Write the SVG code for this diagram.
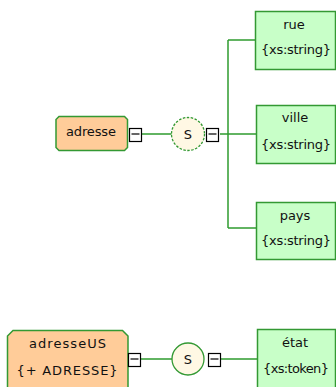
<svg xmlns="http://www.w3.org/2000/svg" width="336" height="387" viewBox="0 0 336 387">
<style>
.el{fill:#C8FFC8;stroke:#339933;stroke-width:1.5}
.grp{fill:#FFCC99;stroke:#339933;stroke-width:1.5}
.seq{fill:#FFF8E4;stroke:#339933;stroke-width:1.3}
.ln{stroke:#2E9B2E;stroke-width:1.5;fill:none}
.cb{fill:#FFFFFF;stroke:#000000;stroke-width:1.2}
.mn{stroke:#000000;stroke-width:1.2}
text{font-family:"DejaVu Sans","Verdana",sans-serif;font-size:13px;fill:#111111;text-anchor:middle}
</style>
<g id="connectors">
<line class="ln" x1="142" y1="134" x2="172" y2="134"/>
<line class="ln" x1="220" y1="134" x2="256" y2="134"/>
<line class="ln" x1="228" y1="40" x2="228" y2="228"/>
<line class="ln" x1="228" y1="40" x2="255" y2="40"/>
<line class="ln" x1="228" y1="228" x2="256" y2="228"/>
<line class="ln" x1="141" y1="359" x2="172" y2="359"/>
<line class="ln" x1="221" y1="359" x2="257" y2="359"/>
</g>
<g id="adresse">
<path class="grp" d="M59,116.5 H124.5 L127.5,119.5 V147.5 L124.5,150.5 H59 L56,147.5 V119.5 Z"/>
<text x="91" y="136" textLength="50" lengthAdjust="spacing">adresse</text>
<rect class="cb" x="129.5" y="128.5" width="12" height="13"/>
<line class="mn" x1="131.5" y1="134" x2="139.5" y2="134"/>
</g>
<g id="seq1">
<circle class="seq" cx="188" cy="134" r="16.5" stroke-dasharray="2.5,1.5"/>
<text x="188" y="138.5">S</text>
<rect class="cb" x="206.5" y="128.5" width="12" height="13"/>
<line class="mn" x1="208.5" y1="134" x2="216.5" y2="134"/>
</g>
<g id="rue">
<rect class="el" x="255.5" y="11.5" width="80" height="58"/>
<text x="294" y="28.5">rue</text>
<text x="296" y="54" textLength="70" lengthAdjust="spacing">{xs:string}</text>
</g>
<g id="ville">
<rect class="el" x="256.5" y="105.5" width="79" height="58"/>
<text x="295" y="122">ville</text>
<text x="296" y="148.5" textLength="70" lengthAdjust="spacing">{xs:string}</text>
</g>
<g id="pays">
<rect class="el" x="256.5" y="202.5" width="79" height="57"/>
<text x="295" y="219.5">pays</text>
<text x="296" y="245" textLength="70" lengthAdjust="spacing">{xs:string}</text>
</g>
<g id="adresseUS">
<path class="grp" d="M13,330.5 H122.5 L128,336 V392 H7.5 V336 Z"/>
<text x="67.5" y="348" textLength="77" lengthAdjust="spacing">adresseUS</text>
<text x="67" y="375" textLength="101" lengthAdjust="spacing">{+ ADRESSE}</text>
<rect class="cb" x="128.5" y="353.5" width="12" height="13"/>
<line class="mn" x1="130.5" y1="359" x2="138.5" y2="359"/>
</g>
<g id="seq2">
<circle class="seq" cx="188" cy="359" r="16"/>
<text x="188" y="363.5">S</text>
<rect class="cb" x="208.5" y="353.5" width="12" height="13"/>
<line class="mn" x1="210.5" y1="359" x2="218.5" y2="359"/>
</g>
<g id="etat">
<rect class="el" x="257.5" y="329.5" width="78" height="62"/>
<text x="295" y="347">état</text>
<text x="296" y="373" textLength="66" lengthAdjust="spacing">{xs:token}</text>
</g>
</svg>
